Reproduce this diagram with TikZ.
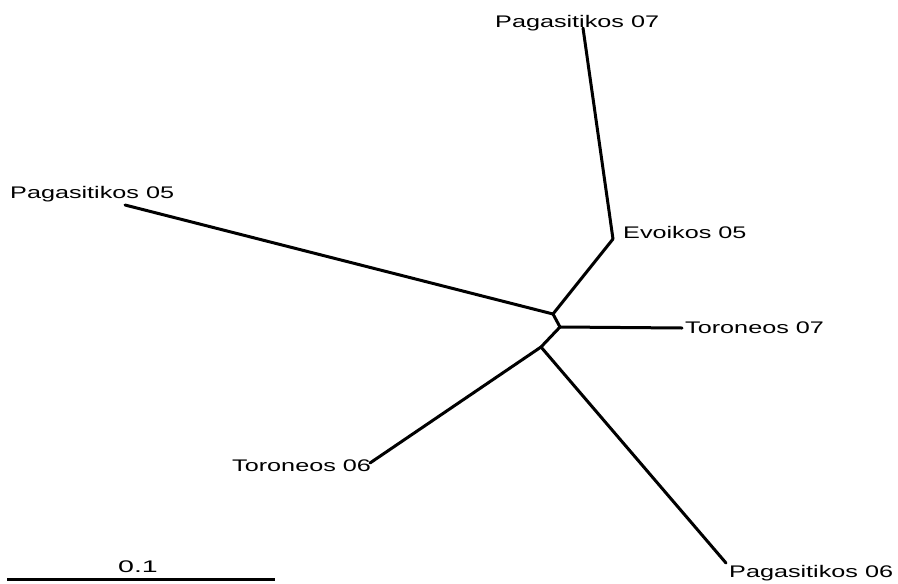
\documentclass[tikz,border=0pt]{standalone}
\usepackage{fontspec}
\setmainfont{Liberation Sans}
\usepackage{graphicx}
\usepackage{xcolor}
\usepackage{tikz}

\newcommand{\widelbl}[1]{\scalebox{1.5}[1]{#1}}

\begin{document}
\begin{tikzpicture}[x=1pt, y=-1pt,
    branch/.style={line width=3pt, line cap=round},
    leaf/.style={inner sep=0pt, font=\fontsize{16.8}{19}\selectfont, anchor=base west}]
                \useasboundingbox (0,0) rectangle (898,584);
                % inner junctions
                \coordinate (j1) at (553,314);
                \coordinate (j2) at (560,327);
                \coordinate (j3) at (541,347);
                \coordinate (ev) at (613,239);
                % tips
                \coordinate (p07tip) at (583,28);
                \coordinate (p05tip) at (125,205);
                \coordinate (t07tip) at (682,328);
                \coordinate (t06tip) at (370,463);
                \coordinate (p06tip) at (726,563);
                % labels
                \node[leaf] (p07) at (495,27) {\widelbl{Pagasitikos 07}};
                \node[leaf] (ev05) at (623,238) {\widelbl{Evoikos 05}};
                \node[leaf] (p05) at (10,198) {\widelbl{Pagasitikos 05}};
                \node[leaf] (t07) at (685,333) {\widelbl{Toroneos 07}};
                \node[leaf] (t06) at (232,471) {\widelbl{Toroneos 06}};
                \node[leaf] (p06) at (729,577) {\widelbl{Pagasitikos 06}};
                % branches
                \draw[branch] (p05tip) -- (j1);
                \draw[branch] (j1) -- (ev);
                \draw[branch] (ev) -- (p07tip);
                \draw[branch] (j1) -- (j2);
                \draw[branch] (j2) -- (t07tip);
                \draw[branch] (j2) -- (j3);
                \draw[branch] (j3) -- (t06tip);
                \draw[branch] (j3) -- (p06tip);
                % scale bar
                \coordinate (barl) at (7,579);
                \coordinate (barr) at (275,579);
                \draw[branch, line cap=butt] (barl) -- (barr);
                \node[leaf, anchor=base] (scl) at (138,572) {\scalebox{1.7}[1]{0.1}};
            \end{tikzpicture}
\end{document}
